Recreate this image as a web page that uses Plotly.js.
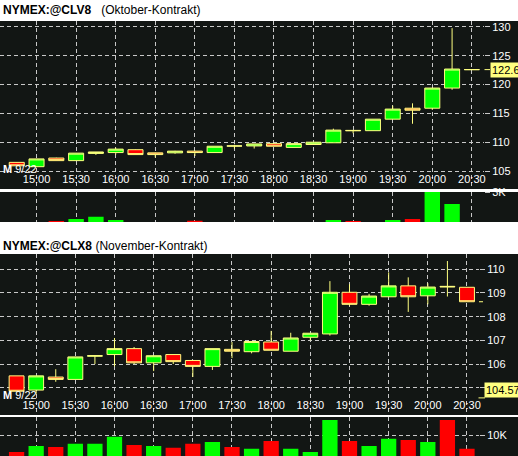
<!DOCTYPE html>
<html><head><meta charset="utf-8">
<script src="https://cdn.plot.ly/plotly-3.0.1.min.js"></script>
<style>html,body{margin:0;padding:0;background:#fff;overflow:hidden}#chart{width:518px;height:456px}</style>
</head><body><div id="chart"></div>
<script>
// ---- data ----
const times = ['14:45','15:00','15:15','15:30','15:45','16:00','16:15','16:30','16:45','17:00','17:15','17:30',
               '17:45','18:00','18:15','18:30','18:45','19:00','19:15','19:30','19:45','20:00','20:15','20:30'];
const timeTicks = ['15:00','15:30','16:00','16:30','17:00','17:30','18:00','18:30','19:00','19:30','20:00','20:30'];

const octOpen  = [106.5,105.75,107.25,106.8,108.05,108.2,108.7,108.15,108.15,108.45,108.2,109.33,109.35,109.75,109.1,109.6,109.9,112.05,112.0,114.0,115.9,115.9,119.4,122.6];
const octHigh  = [106.55,107.1,107.3,108.1,108.3,109.05,108.75,108.2,108.5,108.5,109.3,109.56,109.7,109.75,109.75,110.0,112.35,112.05,114.0,116.35,116.75,119.4,129.8,122.6];
const octLow   = [105.9,105.75,106.8,106.8,107.8,107.85,107.85,107.35,108.0,107.6,108.2,108.87,108.9,109.3,109.1,109.6,109.9,111.55,112.0,114.0,113.2,115.6,119.1,122.6];
const octClose = [105.9,107.1,106.8,108.1,108.3,108.8,107.85,107.85,108.45,108.2,109.3,109.35,109.7,109.3,109.75,110.0,112.1,112.0,114.0,115.75,115.55,119.4,122.7,122.6];
const octVolume = [1800,1900,2075,2140,2214,2107,1900,1800,1700,2084,1900,1600,1700,1800,1900,1900,2107,2075,1950,2107,2140,3300,2627,1500];

const novOpen  = [105.5,104.9,105.45,105.35,106.33,106.4,106.65,106.05,106.4,106.15,105.9,106.62,106.52,106.93,106.54,107.13,107.27,109.03,108.52,108.84,109.3,108.88,109.28,109.24];
const novHigh  = [105.5,105.5,105.78,106.3,106.37,107.1,106.72,106.35,106.4,106.15,106.65,106.93,106.95,107.4,107.32,107.3,109.5,109.37,108.96,109.87,109.66,109.41,110.35,109.24];
const novLow   = [104.85,104.75,105.25,105.35,106.0,105.9,106.0,105.7,106.0,105.45,105.75,106.25,106.45,106.58,106.54,107.0,107.2,108.46,108.46,108.84,108.2,108.52,108.85,108.63];
const novClose = [104.85,105.5,105.35,106.3,106.35,106.65,106.05,106.35,106.1,105.9,106.65,106.54,106.95,106.58,107.1,107.3,109.03,108.52,108.87,109.3,108.84,109.25,109.26,108.63];
const novVolume = [9241,9514,9468,9618,9618,9936,9559,9514,9436,9618,9695,9468,9391,9741,9391,9241,10695,9741,9514,9845,9786,9695,10695,9391];

const octPriceTicks = [105,110,115,120,125,130];
const novPriceTicks = [105,106,107,108,109,110];
const octVolTicks = [3000], octVolText = ['3K'];
const novVolTicks = [10000], novVolText = ['10K'];
const octTitle = ['NYMEX:@CLV8', '(Oktober-Kontrakt)'];
const novTitle = ['NYMEX:@CLX8', '(November-Kontrakt)'];
const octLast = 122.6, novTag = 104.57, novLast = 108.63;

// ---- style ----
const DAY = '2008-09-22 ';
const W = 518, H = 456;
const py = p => 1 - p / H;
const px = p => p / W;
const BG = '#121614', GRID = '#c8c8c8', GREEN = '#00ff00', RED = '#ff0000', OUTLINE = '#ffff80', TAG = '#ffff80';
const FONT = 'Arial, "Liberation Sans", sans-serif';
const xRange = [DAY + '14:32:18', DAY + '20:39:12'];
const dates = times.map(t => DAY + t);
const tickDates = timeTicks.map(t => DAY + t);

function candle(o, h, l, c, xa, ya) {
  return {type:'candlestick', x:dates, open:o, high:h, low:l, close:c, xaxis:xa, yaxis:ya,
    whiskerwidth:0, hoverinfo:'skip',
    increasing:{line:{color:OUTLINE, width:1}, fillcolor:GREEN},
    decreasing:{line:{color:OUTLINE, width:1}, fillcolor:RED}};
}
function vol(v, o, c, xa, ya) {
  return {type:'bar', x:dates, y:v, xaxis:xa, yaxis:ya, hoverinfo:'skip',
    marker:{color:c.map((cl, i) => cl >= o[i] ? GREEN : RED), line:{width:0}}};
}
function xAxis(end, extra) {
  return Object.assign({type:'date', range:xRange, domain:[0, end], showgrid:true, gridcolor:GRID,
    griddash:'4px,3px', gridwidth:1, zeroline:false, showline:false, ticks:'',
    tickvals:tickDates, ticktext:timeTicks, tickfont:{color:'#fff', size:11, family:FONT},
    rangeslider:{visible:false}, fixedrange:true}, extra);
}
function yAxis(dom, rng, tv, tt, anchor) {
  const a = {domain:dom, range:rng, side:'right', anchor:anchor, showgrid:true, gridcolor:GRID,
    griddash:'4px,3px', gridwidth:1, zeroline:false, showline:false, ticks:'outside', ticklen:5,
    tickcolor:GRID, tickvals:tv, tickfont:{color:'#fff', size:11, family:FONT}, fixedrange:true};
  if (tt) a.ticktext = tt;
  return a;
}

const data = [
  candle(octOpen, octHigh, octLow, octClose, 'x', 'y'),
  vol(octVolume, octOpen, octClose, 'x2', 'y2'),
  candle(novOpen, novHigh, novLow, novClose, 'x3', 'y3'),
  vol(novVolume, novOpen, novClose, 'x4', 'y4')
];

const white = (a, b) => ({type:'rect', xref:'paper', yref:'paper', x0:0, x1:1, y0:py(b), y1:py(a),
  fillcolor:'#ffffff', line:{width:0}, layer:'above'});
const seg = (x0, x1, y, yref) => ({type:'line', xref:'paper', yref:yref, x0:px(x0), x1:px(x1), y0:y, y1:y,
  line:{color:TAG, width:1}});

const layout = {
  width:W, height:H, margin:{l:0, r:0, t:0, b:0, pad:0},
  paper_bgcolor:BG, plot_bgcolor:BG, showlegend:false,
  boxgap:0.24, boxgroupgap:0, bargap:0.22,
  font:{family:FONT, color:'#fff', size:11},
  xaxis: xAxis(px(484), {anchor:'free', position:py(171)}),
  xaxis2: xAxis(px(484), {anchor:'y2', showticklabels:false}),
  xaxis3: xAxis(px(479), {anchor:'free', position:py(397)}),
  xaxis4: xAxis(px(479), {anchor:'y4', showticklabels:false}),
  yaxis: yAxis([py(189), py(21)], [101.875, 131.04], octPriceTicks, null, 'x'),
  yaxis2: yAxis([py(222), py(192)], [2042, 3016], octVolTicks, octVolText, 'x2'),
  yaxis3: yAxis([py(415), py(254)], [103.847, 110.646], novPriceTicks, null, 'x3'),
  yaxis4: yAxis([0, py(417)], [9059, 10832], novVolTicks, novVolText, 'x4'),
  shapes: [
    white(0, 21), white(189, 192), white(222, 254), white(415, 417),
    seg(484.5, 490, octLast, 'y'), seg(478.5, 485, novTag, 'y3'), seg(479, 483, novLast, 'y3')
  ],
  annotations: [
    {xref:'paper', yref:'paper', x:px(1), y:py(10.5), xanchor:'left', yanchor:'middle', showarrow:false,
     text:'<b>' + octTitle[0] + '</b>\u00a0\u00a0\u00a0' + octTitle[1], font:{color:'#000', size:12, family:FONT}},
    {xref:'paper', yref:'paper', x:px(1), y:py(245.5), xanchor:'left', yanchor:'middle', showarrow:false,
     text:'<b>' + novTitle[0] + '</b>\u00a0' + novTitle[1], font:{color:'#000', size:12, family:FONT}},
    {xref:'paper', yref:'paper', x:px(1), y:py(169), xanchor:'left', yanchor:'middle', showarrow:false,
     text:'<b>M</b> 9/22', font:{color:'#fff', size:11, family:FONT}},
    {xref:'paper', yref:'paper', x:px(1), y:py(395), xanchor:'left', yanchor:'middle', showarrow:false,
     text:'<b>M</b> 9/22', font:{color:'#fff', size:11, family:FONT}},
    {xref:'paper', yref:'y', x:px(489.7), y:octLast, xanchor:'left', yanchor:'middle', showarrow:false,
     text:String(octLast), bgcolor:TAG, borderpad:1, font:{color:'#000', size:11, family:FONT}},
    {xref:'paper', yref:'y3', x:px(484), y:novTag, xanchor:'left', yanchor:'bottom', showarrow:false,
     text:novTag.toFixed(2), bgcolor:TAG, borderpad:1, font:{color:'#000', size:11, family:FONT}},
    {xref:'paper', yref:'y2', x:px(490), y:2000, xanchor:'left', yanchor:'middle', showarrow:false,
     text:'2K', font:{color:'#fff', size:11, family:FONT}},
    {xref:'paper', yref:'y4', x:px(485), y:9000, xanchor:'left', yanchor:'middle', showarrow:false,
     text:'9K', font:{color:'#fff', size:11, family:FONT}}
  ]
};

Plotly.newPlot('chart', data, layout, {staticPlot:true, displayModeBar:false});
</script>
</body></html>
